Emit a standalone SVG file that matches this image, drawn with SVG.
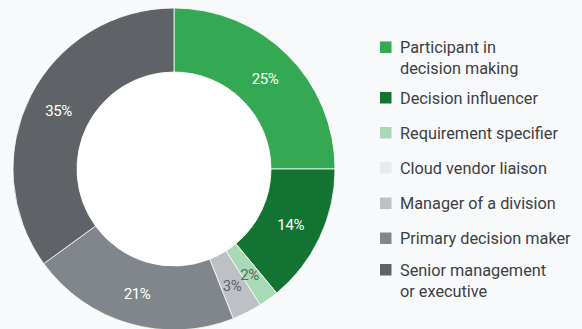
<svg xmlns="http://www.w3.org/2000/svg" width="582" height="329" viewBox="0 0 582 329">
<style>
.sl{stroke:#ffffff;stroke-width:0.8}
.pl{font-family:Roboto,"Liberation Sans",sans-serif;font-size:15px;text-anchor:middle;dominant-baseline:central;letter-spacing:-0.4px}
.w{fill:#ffffff}
.d{fill:#5f6368}
.lg{font-family:Roboto,"Liberation Sans",sans-serif;font-size:16.3px;fill:#3c4043}
</style>
<rect x="0" y="0" width="582" height="329" fill="#f8f9fa"/>
<g id="chart">
<g id="slice-participant"><path class="sl" fill="#34a853" d="M174 8 A161 161 0 0 1 335 169 L271 169 A97 97 0 0 0 174 72 Z"/><text class="pl w" x="265" y="78.5">25%</text></g>
<g id="slice-influencer"><path class="sl" fill="#137333" d="M335 169 A161 161 0 0 1 276.62 293.05 L235.83 243.74 A97 97 0 0 0 271 169 Z"/><text class="pl w" x="290.7" y="224.5">14%</text></g>
<g id="slice-requirement"><path class="sl" fill="#a8dab5" d="M276.62 293.05 A161 161 0 0 1 260.27 304.94 L225.98 250.9 A97 97 0 0 0 235.83 243.74 Z"/></g>
<g id="slice-manager"><path class="sl" fill="#bdc1c6" d="M260.27 304.94 A161 161 0 0 1 233.27 318.69 L209.71 259.19 A97 97 0 0 0 225.98 250.9 Z"/></g>
<g id="slice-primary"><path class="sl" fill="#80868b" d="M233.27 318.69 A161 161 0 0 1 43.75 263.63 L95.53 226.02 A97 97 0 0 0 209.71 259.19 Z"/><text class="pl w" x="137" y="293.5">21%</text></g>
<g id="slice-senior"><path class="sl" fill="#5f6368" d="M43.75 263.63 A161 161 0 0 1 174 8 L174 72 A97 97 0 0 0 95.53 226.02 Z"/><text class="pl w" x="58.5" y="110.5">35%</text></g>
<text class="pl d" x="249.5" y="274.5">2%</text>
<text class="pl d" x="232" y="285.5">3%</text>
<circle cx="174" cy="169" r="96.6" fill="#ffffff"/>
</g>
<g id="legend">
<g id="lg-participant"><rect x="380" y="41.5" width="11.5" height="11.5" fill="#34a853"/><text class="lg" x="400" y="53">Participant in</text><text class="lg" x="400" y="74">decision making</text></g>
<g id="lg-influencer"><rect x="380" y="92" width="11.5" height="11.5" fill="#137333"/><text class="lg" x="400" y="103.5">Decision influencer</text></g>
<g id="lg-requirement"><rect x="380" y="127" width="11.5" height="11.5" fill="#a8dab5"/><text class="lg" x="400" y="138.5">Requirement specifier</text></g>
<g id="lg-cloud"><rect x="380" y="162" width="11.5" height="11.5" fill="#e8eaed"/><text class="lg" x="400" y="173.5">Cloud vendor liaison</text></g>
<g id="lg-manager"><rect x="380" y="197.5" width="11.5" height="11.5" fill="#bdc1c6"/><text class="lg" x="400" y="208.5">Manager of a division</text></g>
<g id="lg-primary"><rect x="380" y="232.5" width="11.5" height="11.5" fill="#80868b"/><text class="lg" x="400" y="243.5">Primary decision maker</text></g>
<g id="lg-senior"><rect x="380" y="264" width="11.5" height="11.5" fill="#5f6368"/><text class="lg" x="400" y="275.5">Senior management</text><text class="lg" x="400" y="296.5">or executive</text></g>
</g>
</svg>
